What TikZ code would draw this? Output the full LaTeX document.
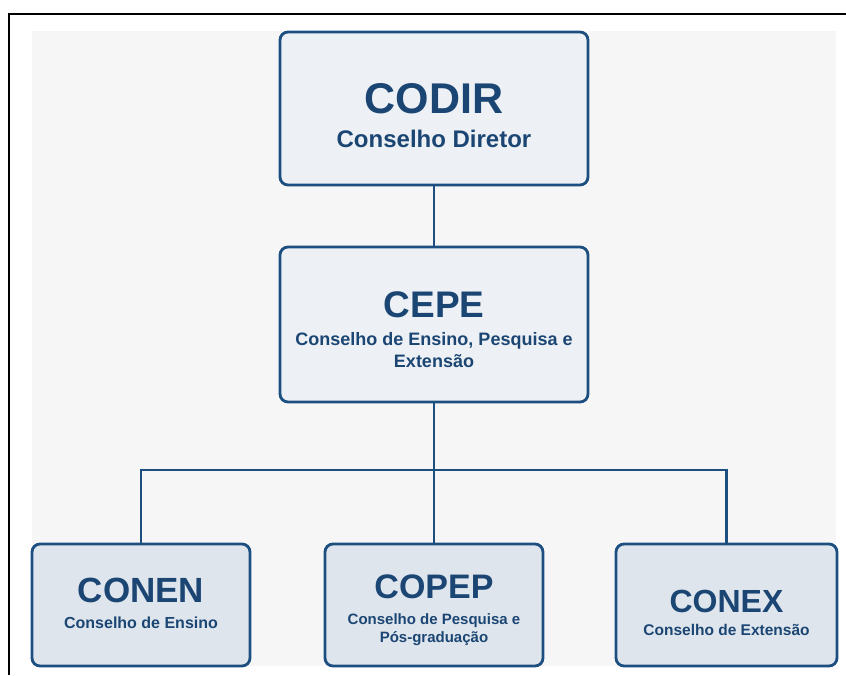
\documentclass[tikz,border=0pt]{standalone}
\usepackage{fontspec}
\setmainfont{Liberation Sans}
\definecolor{bline}{HTML}{1C4F80}
\definecolor{btext}{HTML}{1B4674}
\definecolor{bgray}{HTML}{F6F6F6}
\definecolor{topfill}{HTML}{EDF0F4}
\definecolor{botfill}{HTML}{DFE5EC}
\tikzset{
  orgbox/.style={draw=bline, line width=2.8pt, rounded corners=8pt, minimum width=#1, inner sep=0pt},
  link/.style={draw=bline, line width=2.8pt},
  ttl/.style={text=btext, inner sep=0pt, anchor=base, font=\bfseries\fontsize{#1}{#1}\selectfont},
  sub/.style={text=btext, inner sep=0pt, anchor=base, font=\bfseries\fontsize{#1}{#1}\selectfont},
}
\begin{document}
\begin{tikzpicture}[x=1pt,y=-1pt]
\useasboundingbox (0,0) rectangle (846,675);
\fill[white] (0,0) rectangle (846,675);
\fill[bgray] (32,31) rectangle (836,666);
\draw[black, line width=2.6pt] (9,675) -- (9,14) -- (846,14);
% boxes
\node[orgbox=308pt, minimum height=153pt, fill=topfill] (codir) at (434,108.5) {};
\node[orgbox=308pt, minimum height=155pt, fill=topfill] (cepe) at (434,324.5) {};
\node[orgbox=218pt, minimum height=122pt, fill=botfill] (conen) at (141,605) {};
\node[orgbox=218pt, minimum height=122pt, fill=botfill] (copep) at (434,605) {};
\node[orgbox=221pt, minimum height=122pt, fill=botfill] (conex) at (726.5,605) {};
\coordinate (bus) at (434,470);
% connectors
\draw[link] (codir.south) -- (cepe.north);
\draw[link] (cepe.south) -- (copep.north);
\draw[link] (conen.north) |- (bus) -| (conex.north);
% texts
\node[ttl=43] (t1) at (434,113) {CODIR};
\node[sub=24] (s1) at (434,147) {Conselho Diretor};
\node[ttl=37] (t2) at (434,317) {CEPE};
\node[sub=18] (s2a) at (434,345) {Conselho de Ensino, Pesquisa e};
\node[sub=18] (s2b) at (434,367) {Extensão};
\node[ttl=35] (t3) at (141,602) {CONEN};
\node[sub=16] (s3) at (141,628) {Conselho de Ensino};
\node[ttl=34] (t4) at (434,598) {COPEP};
\node[sub=15] (s4a) at (434,624) {Conselho de Pesquisa e};
\node[sub=15] (s4b) at (434,642) {Pós-graduação};
\node[ttl=32] (t5) at (726.5,612) {CONEX};
\node[sub=15.5] (s5) at (726.5,635) {Conselho de Extensão};
\end{tikzpicture}
\end{document}
